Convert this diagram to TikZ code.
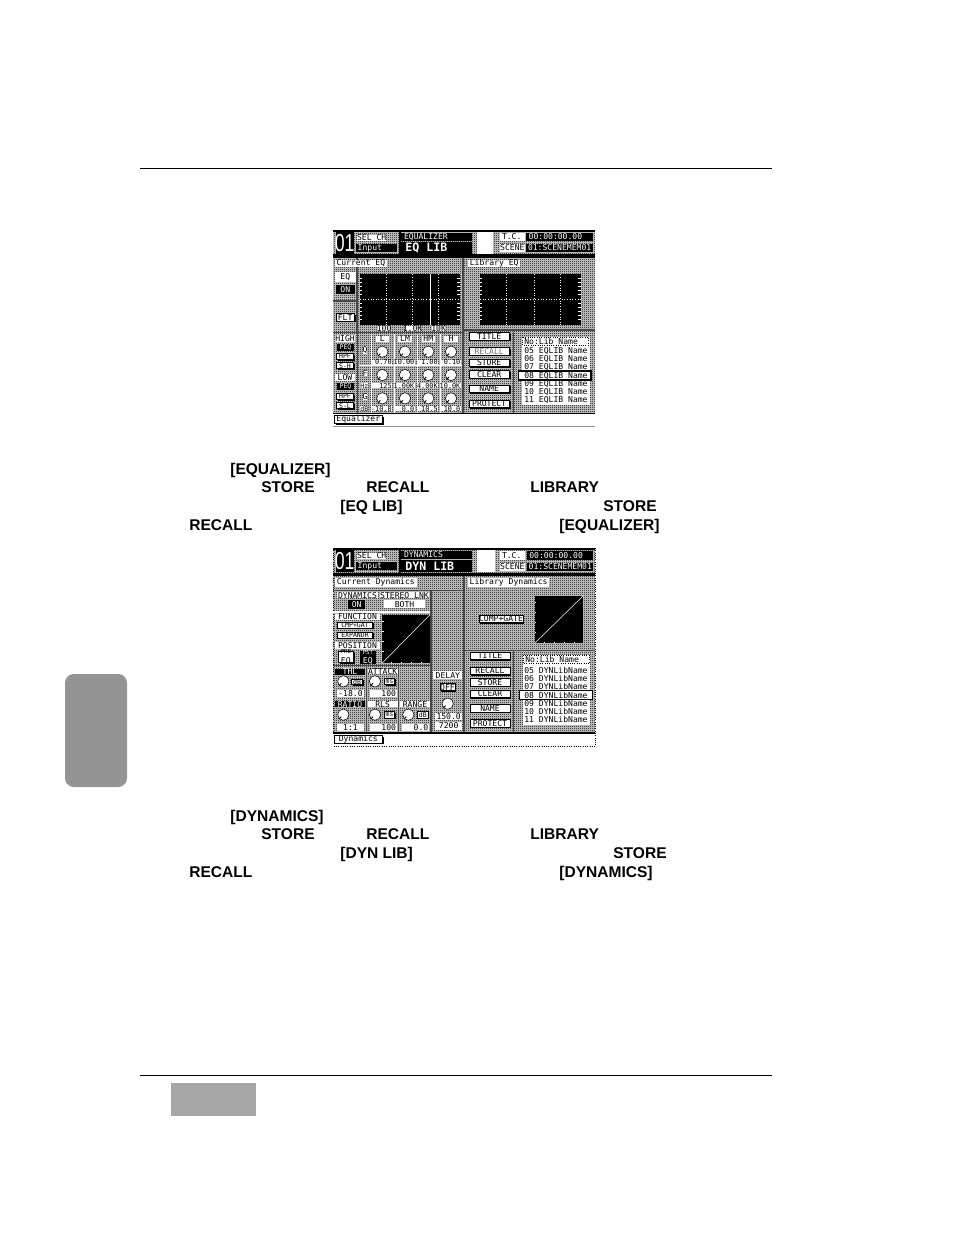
\documentclass[tikz,border=0pt]{standalone}
\usepackage{fontspec}
\setmainfont{Liberation Sans}
\newfontfamily\lcdfamily{DejaVu Sans Mono}
\newfontfamily\chfamily[FakeStretch=0.72]{Liberation Sans}
\usetikzlibrary{calc,patterns}
\pgfdeclarepatternformonly{dither}{\pgfpointorigin}{\pgfqpoint{1.14pt}{1.14pt}}{\pgfqpoint{1.14pt}{1.14pt}}{
	\pgfpathrectangle{\pgfpointorigin}{\pgfqpoint{0.57pt}{0.57pt}}
	\pgfpathrectangle{\pgfqpoint{0.57pt}{0.57pt}}{\pgfqpoint{0.57pt}{0.57pt}}
	\pgfusepath{fill}
}
\newcommand{\smalllcd}{\fontsize{3.7}{4}\selectfont}
\newcommand{\biglcd}{\fontsize{6.6}{7}\selectfont\bfseries}
\newcommand{\chnumber}{\fontsize{14}{14}\selectfont\chfamily 01}
\tikzset{
	pagetext/.style={font=\fontsize{8.85}{10}\selectfont\bfseries, anchor=base west, inner sep=0},
	lcdtext/.style={font=\fontsize{4.6}{5.4}\selectfont\lcdfamily, inner sep=0, align=center},
	dithered/.style={pattern=dither, pattern color=black, preaction={fill=black!18}},
	blackbox/.style={fill=black, text=white, lcdtext},
	whitebox/.style={fill=white, text=black, lcdtext},
	btnface/.style={draw=black, fill=white, line width=0.3pt, lcdtext},
	panelline/.style={fill=black!72},
	gridline/.style={white, densely dotted, line width=0.5pt},
	tickline/.style={white, line width=0.35pt},
	knobdial/.style={fill=white, draw=black, line width=0.3pt}
}
\newcommand{\lcdbtn}[4]{
	\fill[black] ($(#1)+(4,4)$) rectangle ($(#2)+(4,4)$);
	\path[btnface] (#1) rectangle node (#3) {#4} (#2);
}
\newcommand{\lcdknob}[2]{
	\path[knobdial] (#1,#2) circle (17);
	\draw[black, line width=0.5pt] (#1,#2) ++(-6,6) -- ++(-7,7);
}
\begin{document}
\begin{tikzpicture}[x=0.02cm, y=-0.02cm]
	\useasboundingbox (0,0) rectangle (954,1235);

	% page furniture
	\draw[black, line width=0.5pt] (140,168.5) -- (772,168.5);
	\draw[black, line width=0.5pt] (140,1075.5) -- (772,1075.5);
	\fill[black!35] (171,1083) rectangle (256,1116);
	\fill[black!42, rounded corners=5pt] (65,674) rectangle (127,787);

	% text under the first screen
	\node[pagetext] (eqa) at (230,474) {[EQUALIZER]};
	\node[pagetext] (eqb) at (261,492) {STORE};
	\node[pagetext] (eqc) at (366,492) {RECALL};
	\node[pagetext] (eqd) at (530,492) {LIBRARY};
	\node[pagetext] (eqe) at (340,511) {[EQ LIB]};
	\node[pagetext] (eqf) at (603,511) {STORE};
	\node[pagetext] (eqg) at (189,530) {RECALL};
	\node[pagetext] (eqh) at (559,530) {[EQUALIZER]};

	% text under the second screen
	\node[pagetext] (dyna) at (230,821) {[DYNAMICS]};
	\node[pagetext] (dynb) at (261,839) {STORE};
	\node[pagetext] (dync) at (366,839) {RECALL};
	\node[pagetext] (dynd) at (530,839) {LIBRARY};
	\node[pagetext] (dyne) at (340,858) {[DYN LIB]};
	\node[pagetext] (dynf) at (613,858) {STORE};
	\node[pagetext] (dyng) at (189,877) {RECALL};
	\node[pagetext] (dynh) at (559,877) {[DYNAMICS]};

	% first screen, coordinates in units of a third of a pixel
	\begin{scope}[shift={(325,225)}, scale=0.33333]
		\path[dithered] (25,15) rectangle (810,565);
		\fill[black] (25,15) rectangle (810,22);
		\fill[black] (25,88) rectangle (810,98);
		\fill[black] (222,15) rectangle (227,90);
		\path[blackbox] (32,20) rectangle node (chnum) {\chnumber} (86,88);
		\node[whitebox] (selch) at (140,38) {SEL CH};
		\fill[black] (92,58) rectangle (215,82);
		\node[lcdtext, text=white, anchor=west] (input) at (97,70) {Input};
		\fill[black] (228,24) rectangle (440,47);
		\node[lcdtext, text=white, anchor=west] (eqname) at (236,35) {EQUALIZER};
		\fill[black] (228,52) rectangle (440,86);
		\node[lcdtext, text=white, anchor=west] (eqlib) at (240,69) {\biglcd EQ LIB};
		\fill[white] (455,20) rectangle (505,88);
		\fill[white] (525,25) rectangle (600,48);
		\node[lcdtext, anchor=west] (tclabel) at (530,36) {T.C.};
		\fill[black] (603,25) rectangle (805,48);
		\node[lcdtext, text=white, anchor=west] (tcval) at (610,36) {00:00:00.00};
		\fill[white] (525,56) rectangle (600,80);
		\node[lcdtext, anchor=center] (scenelabel) at (562,68) {SCENE};
		\fill[black] (603,56) rectangle (805,80);
		\node[lcdtext, text=white, anchor=west] (sceneval) at (608,68) {01:SCENEMEM01};

		% panels
		\path[panelline] (410,98) rectangle (417,565);
		\path[panelline] (94,98) rectangle (98,322);
		\path[panelline] (25,320) rectangle (410,324);
		\path[panelline] (417,313) rectangle (810,317);
		\path[panelline] (25,226) rectangle (94,230);
		\path[panelline] (97,322) rectangle (100,565);
		\path[whitebox] (30,105) rectangle node (cureq) {Current EQ} (185,126);
		\path[whitebox] (430,105) rectangle node (libeq) {Library EQ} (585,126);
		\path[whitebox] (30,140) rectangle node (eqlabel) {EQ} (92,172);
		\path[blackbox] (32,180) rectangle node (eqon) {ON} (90,208);
		\lcdbtn{33,265}{88,288}{eqflt}{FLT}

		% graphs
		\fill[black] (105,148) rectangle (405,300);
		\fill[black] (465,148) rectangle (768,300);
		\foreach \gx in {185,262,340,545,628,705}
			\draw[gridline] (\gx,148) -- (\gx,300);
		\draw[white, line width=0.6pt] (316,148) -- (316,300);
		\draw[gridline] (105,222) -- (405,222);
		\draw[gridline] (465,222) -- (768,222);
		\foreach \ty in {160,172,184,196,208,236,248,260,272,284}{
			\draw[tickline] (105,\ty) -- (110,\ty);
			\draw[tickline] (396,\ty) -- (405,\ty);
			\draw[tickline] (465,\ty) -- (470,\ty);
			\draw[tickline] (759,\ty) -- (768,\ty);
		}
		\path[whitebox] (160,303) rectangle node (fone) {100} (195,317);
		\path[whitebox] (240,303) rectangle node (ftwo) {1.0K} (285,317);
		\path[whitebox] (322,303) rectangle node (fthree) {10K} (360,317);

		% buttons on the right
		\lcdbtn{432,323}{553,345}{btitle}{TITLE}
		\lcdbtn{432,368}{553,390}{brecall}{\textcolor{black!55}{RECALL}}
		\lcdbtn{432,402}{553,424}{bstore}{STORE}
		\lcdbtn{432,437}{553,459}{bclear}{CLEAR}
		\lcdbtn{432,480}{553,502}{bname}{NAME}
		\lcdbtn{432,525}{553,547}{bprotect}{PROTECT}
		\path[panelline] (563,320) rectangle (567,565);

		% library list
		\fill[white] (590,335) rectangle (795,540);
		\draw[black, densely dotted, line width=0.3pt] (592,337) rectangle (790,360);
		\node[lcdtext, anchor=west] (listhead) at (597,348) {No:Lib Name};
		\foreach \rowy/\rownum in {377/05,403/06,427/07,477/09,502/10,525/11}
			\node[lcdtext, anchor=west] (row\rownum) at (597,\rowy) {\rownum{} EQLIB Name};
		\path[draw=black, fill=white, line width=0.6pt] (580,438) rectangle (798,465);
		\node[lcdtext, anchor=west] (row08) at (597,452) {08 EQLIB Name};

		% filter types
		\path[whitebox] (30,330) rectangle node (high) {HIGH} (90,350);
		\path[blackbox] (35,358) rectangle node (hpeq) {\smalllcd PEQ} (88,378);
		\lcdbtn{35,385}{85,403}{hhpf}{\smalllcd HPF}
		\lcdbtn{35,413}{85,431}{hsh}{\smalllcd S-H}
		\path[whitebox] (30,447) rectangle node (low) {LOW} (90,467);
		\path[blackbox] (35,475) rectangle node (lpeq) {\smalllcd PEQ} (88,495);
		\lcdbtn{35,505}{85,523}{lhpf}{\smalllcd HPF}
		\lcdbtn{35,533}{85,551}{lsl}{\smalllcd S-L}

		% bands
		\fill[white] (103,420) rectangle (410,423);
		\foreach \sepx in {138,206,275,345}
			\fill[white] (\sepx,326) rectangle (\sepx+3,565);
		\path[whitebox] (152,332) rectangle node (bandl) {L} (192,350);
		\path[whitebox] (220,332) rectangle node (bandlm) {LM} (260,350);
		\path[whitebox] (290,332) rectangle node (bandhm) {HM} (330,350);
		\path[whitebox] (358,332) rectangle node (bandh) {H} (398,350);
		\foreach \bandx in {172,240,310,378}
			\foreach \rowy in {380,450,520}{
				\lcdknob{\bandx}{\rowy}
			}
		\node[lcdtext, fill=white] (qlabel) at (120,375) {Q};
		\node[lcdtext, fill=white] (flabel) at (120,445) {F};
		\node[lcdtext, fill=white, font=\fontsize{3.7}{4}\selectfont\lcdfamily] (hzlabel) at (118,482) {Hz};
		\node[lcdtext, fill=white] (glabel) at (120,515) {G};
		\node[lcdtext, fill=white, font=\fontsize{3.7}{4}\selectfont\lcdfamily] (dblabel) at (118,551) {dB};
		\foreach \valx/\valy/\valtext [count=\vali] in {172/412/0.70,240/412/10.00,310/412/1.00,378/412/0.10,172/482/125,240/482/1.00K,310/482/4.00K,378/482/10.0K,172/551/-10.0,240/551/0.0,310/551/10.5,378/551/10.0}{
			\path[whitebox] (\valx-30,\valy-8) rectangle (\valx+30,\valy+8);
			\node[lcdtext, anchor=east, font=\fontsize{3.9}{4}\selectfont\lcdfamily] (val\vali) at (\valx+29,\valy) {\valtext};
		}

		% footer
		\fill[black] (25,563) rectangle (810,567);
		\fill[white] (25,567) rectangle (810,603);
		\fill[black!45] (25,603) rectangle (810,606);
		\lcdbtn{28,572}{172,595}{footeq}{Equalizer}
	\end{scope}

	% second screen
	\begin{scope}[shift={(325,543)}, scale=0.33333]
		\path[dithered] (25,15) rectangle (810,570);
		\draw[black, densely dotted, line width=0.3pt] (25,15) rectangle (810,610);
		\fill[black] (25,15) rectangle (810,22);
		\fill[black] (25,90) rectangle (810,98);
		\fill[black] (222,15) rectangle (227,90);
		\path[blackbox] (32,22) rectangle node (dchnum) {\chnumber} (86,88);
		\node[whitebox] (dselch) at (140,38) {SEL CH};
		\fill[black] (92,58) rectangle (215,82);
		\node[lcdtext, text=white, anchor=west] (dinput) at (97,70) {Input};
		\fill[black] (228,25) rectangle (440,48);
		\node[lcdtext, text=white, anchor=west] (dynname) at (236,36) {DYNAMICS};
		\fill[black] (228,52) rectangle (440,86);
		\node[lcdtext, text=white, anchor=west] (dynlib) at (240,69) {\biglcd DYN LIB};
		\fill[white] (455,20) rectangle (510,88);
		\fill[white] (525,25) rectangle (600,50);
		\node[lcdtext, anchor=west] (dtclabel) at (530,37) {T.C.};
		\fill[black] (605,25) rectangle (805,50);
		\node[lcdtext, text=white, anchor=west] (dtcval) at (612,37) {00:00:00.00};
		\fill[white] (525,60) rectangle (600,85);
		\node[lcdtext] (dscenelabel) at (562,72) {SCENE};
		\fill[black] (605,60) rectangle (805,85);
		\node[lcdtext, text=white, anchor=west] (dsceneval) at (610,72) {01:SCENEMEM01};

		% panels
		\path[whitebox] (30,105) rectangle node (curdyn) {Current Dynamics} (275,132);
		\path[whitebox] (430,105) rectangle node (libdyn) {Library Dynamics} (672,132);
		\path[panelline] (415,98) rectangle (421,568);
		\path[panelline] (25,140) rectangle (415,144);
		\path[panelline] (316,144) rectangle (320,568);
		\path[panelline] (25,366) rectangle (318,370);
		\path[panelline] (421,320) rectangle (810,324);
		\path[panelline] (122,370) rectangle (124,568);
		\path[panelline] (220,370) rectangle (222,568);
		\fill[white] (25,205) rectangle (316,209);

		\path[whitebox] (35,148) rectangle node (dyndyn) {DYNAMICS} (160,165);
		\path[whitebox] (165,148) rectangle node (dynlnk) {STEREO LNK} (312,165);
		\path[blackbox] (70,172) rectangle node (dynon) {ON} (120,198);
		\path[whitebox] (177,172) rectangle node (dynboth) {BOTH} (300,196);
		\path[whitebox] (30,212) rectangle node (dynfunc) {FUNCTION} (165,230);
		\lcdbtn{38,237}{142,255}{dyncmp}{\smalllcd CMP+GAT}
		\lcdbtn{38,267}{142,285}{dynexp}{\smalllcd EXPANDR}
		\path[whitebox] (30,298) rectangle node (dynpos) {POSITION} (165,318);
		\lcdbtn{40,325}{85,358}{dynpre}{\fontsize{3.2}{3.8}\selectfont PRE\\EQ}
		\path[blackbox] (105,325) rectangle node (dynpst) {\fontsize{3.2}{3.8}\selectfont PST\\EQ} (152,362);

		% graphs
		\fill[black] (172,215) rectangle (315,360);
		\draw[white, line width=0.3pt] (172,360) -- (315,215);
		\fill[black] (630,158) rectangle (775,300);
		\draw[white, line width=0.3pt] (630,300) -- (775,158);
		\foreach \ty in {235,265,295,325}
			\draw[tickline] (172,\ty) -- (176,\ty);
		\foreach \ty in {178,208,238,268}
			\draw[tickline] (630,\ty) -- (634,\ty);
		\foreach \tx in {200,230,260,290}
			\draw[tickline] (\tx,356) -- (\tx,360);
		\foreach \tx in {658,688,718,748}
			\draw[tickline] (\tx,296) -- (\tx,300);
		\lcdbtn{462,217}{594,238}{dyncomp}{COMP+GATE}

		% threshold, attack, ratio, release, range
		\path[blackbox] (30,378) rectangle node (dynthl) {THL} (120,395);
		\path[whitebox] (128,378) rectangle node (dynatk) {ATTACK} (218,392);
		\path[blackbox] (30,475) rectangle node (dynratio) {RATIO} (120,492);
		\path[whitebox] (128,475) rectangle node (dynrls) {RLS} (218,492);
		\path[whitebox] (225,475) rectangle node (dynrange) {RANGE} (315,492);
		\foreach \kx/\ky in {55/415,150/415,55/515,150/515,250/515,368/482}{
			\lcdknob{\kx}{\ky}
		}
		\lcdbtn{80,408}{112,424}{unita}{\smalllcd dB}
		\lcdbtn{178,405}{209,425}{unitb}{\smalllcd ms}
		\lcdbtn{178,505}{209,525}{unitc}{\smalllcd ms}
		\lcdbtn{278,505}{309,525}{unitd}{\smalllcd dB}
		\path[whitebox] (35,440) rectangle node (valthl) {-18.0} (118,462);
		\path[whitebox] (135,440) rectangle (215,462);
		\node[lcdtext, anchor=east] (valatk) at (214,451) {100};
		\path[whitebox] (35,542) rectangle node (valratio) {1:1} (118,565);
		\path[whitebox] (135,542) rectangle (215,565);
		\node[lcdtext, anchor=east] (valrls) at (214,553) {100};
		\path[whitebox] (232,542) rectangle (312,565);
		\node[lcdtext, anchor=east] (valrange) at (311,553) {0.0};

		% delay
		\path[whitebox] (325,385) rectangle node (dyndelay) {DELAY} (412,408);
		\lcdbtn{345,422}{390,443}{dynoff}{OFF}
		\path[whitebox] (330,510) rectangle node (valdelay) {150.0} (412,530);
		\path[whitebox] (330,538) rectangle node (valtemp) {7200} (412,560);

		% buttons and list
		\lcdbtn{435,327}{555,349}{dbtitle}{TITLE}
		\lcdbtn{435,372}{555,394}{dbrecall}{RECALL}
		\lcdbtn{435,407}{555,429}{dbstore}{STORE}
		\lcdbtn{435,442}{555,464}{dbclear}{CLEAR}
		\lcdbtn{435,485}{555,507}{dbname}{NAME}
		\lcdbtn{435,530}{555,552}{dbprotect}{PROTECT}
		\path[panelline] (563,324) rectangle (568,568);
		\fill[white] (593,335) rectangle (795,545);
		\draw[black, densely dotted, line width=0.3pt] (595,337) rectangle (792,362);
		\node[lcdtext, anchor=west] (dlisthead) at (600,350) {No:Lib Name};
		\foreach \rowy/\rownum in {381/05,405/06,431/07,480/09,505/10,530/11}
			\node[lcdtext, anchor=west] (drow\rownum) at (597,\rowy) {\rownum{} DYNLibName};
		\path[draw=black, fill=white, line width=0.6pt] (583,443) rectangle (803,470);
		\node[lcdtext, anchor=west] (drow08) at (597,456) {08 DYNLibName};

		% footer
		\fill[black] (25,568) rectangle (810,572);
		\fill[white] (25,572) rectangle (810,608);
		\lcdbtn{28,578}{172,600}{footdyn}{Dynamics}
	\end{scope}
\end{tikzpicture}
\end{document}
